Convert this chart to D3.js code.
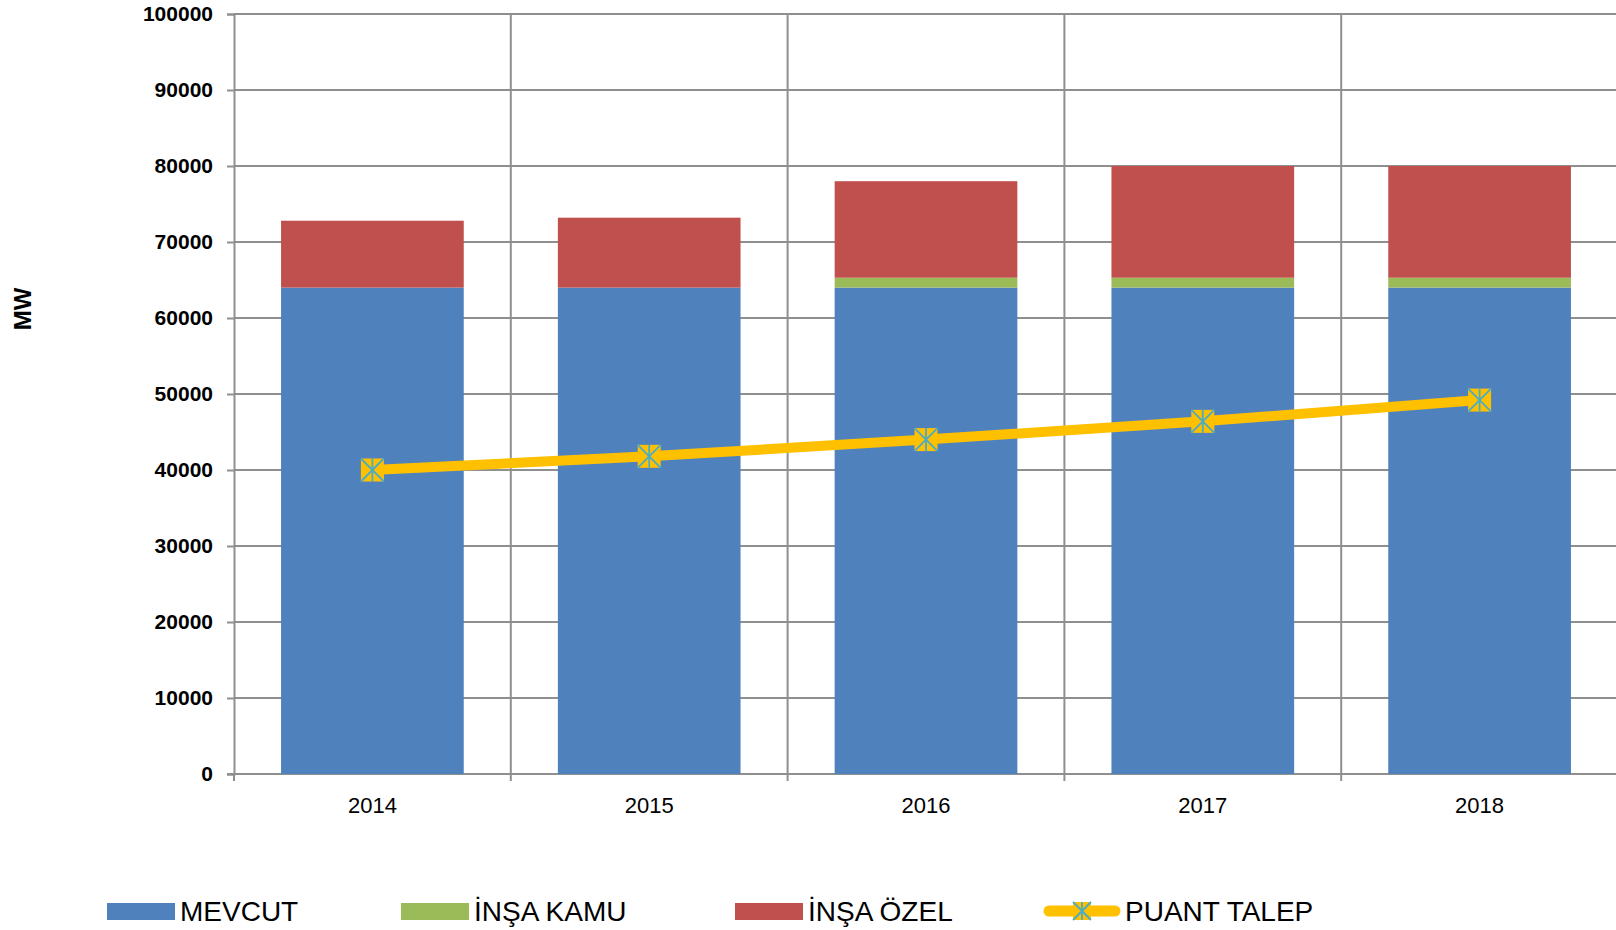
<!DOCTYPE html>
<html>
<head>
<meta charset="utf-8">
<script src="https://cdn.jsdelivr.net/npm/d3@7"></script>
<style>
  body { margin: 0; background: #fff; }
  text { font-family: "Liberation Sans", Arial, sans-serif; fill: #000; }
</style>
</head>
<body>
<script>
// data (MW)
var years = ["2014", "2015", "2016", "2017", "2018"];
var mevcut = [64000, 64000, 64000, 64000, 64000];
var insaKamu = [0, 0, 1300, 1300, 1300];
var insaOzel = [8800, 9200, 12700, 14700, 14700];
var puantTalep = [40000, 41800, 44000, 46400, 49200];
var yTicks = [0, 10000, 20000, 30000, 40000, 50000, 60000, 70000, 80000, 90000, 100000];

var seriesNames = ["MEVCUT", "İNŞA KAMU", "İNŞA ÖZEL"];
var colors = ["#4F81BD", "#9BBB59", "#C0504D"];
var lineColor = "#FFC000", markColor = "#4BACC6";

var W = 1616, H = 930;
var margin = {top: 14, right: 0, bottom: 156, left: 234};
var width = 1384,
    height = H - margin.top - margin.bottom;

var table = years.map(function(y, i) {
  return {year: y, "MEVCUT": mevcut[i], "İNŞA KAMU": insaKamu[i], "İNŞA ÖZEL": insaOzel[i], talep: puantTalep[i]};
});

var x = d3.scaleBand().domain(years).range([0, width]).padding(0);
var y = d3.scaleLinear().domain([0, 100000]).range([height, 0]);
var bw = x.bandwidth();

var svg = d3.select("body").append("svg")
    .attr("width", W)
    .attr("height", H)
  .append("g")
    .attr("transform", "translate(" + margin.left + "," + margin.top + ")");

// grid
svg.append("g")
  .selectAll("line")
  .data(yTicks)
  .enter().append("line")
    .attr("x1", 0).attr("x2", width)
    .attr("y1", function(d) { return y(d); })
    .attr("y2", function(d) { return y(d); })
    .attr("stroke", "#8f8f8f").attr("stroke-width", 2);

svg.append("g")
  .selectAll("line")
  .data(years.slice(1))
  .enter().append("line")
    .attr("x1", function(d) { return x(d); })
    .attr("x2", function(d) { return x(d); })
    .attr("y1", 0).attr("y2", height + 7)
    .attr("stroke", "#8f8f8f").attr("stroke-width", 2);

// y axis
var yAxis = svg.append("g")
    .call(d3.axisLeft(y).tickValues(yTicks).tickSize(7).tickPadding(14).tickFormat(d3.format("d")));
yAxis.select(".domain").attr("stroke", "#8f8f8f").attr("stroke-width", 2);
yAxis.selectAll(".tick line").attr("stroke", "#8f8f8f").attr("stroke-width", 2);
yAxis.selectAll("text")
    .style("font-family", "Liberation Sans, Arial, sans-serif")
    .style("font-size", "21px").style("font-weight", "bold").attr("fill", "#000");

// x axis line + labels
svg.append("line")
    .attr("x1", -7).attr("x2", width)
    .attr("y1", height).attr("y2", height)
    .attr("stroke", "#8f8f8f").attr("stroke-width", 2);
svg.append("line")
    .attr("x1", 0).attr("x2", 0)
    .attr("y1", height).attr("y2", height + 7)
    .attr("stroke", "#8f8f8f").attr("stroke-width", 2);

svg.append("g")
  .selectAll("text")
  .data(years)
  .enter().append("text")
    .attr("x", function(d) { return x(d) + bw / 2; })
    .attr("y", height + 39)
    .attr("text-anchor", "middle")
    .style("font-size", "22px")
    .text(function(d) { return d; });

// stacked bars
var stack = d3.stack().keys(seriesNames)(table);

svg.append("g")
  .selectAll("g")
  .data(stack)
  .enter().append("g")
    .attr("fill", function(d, i) { return colors[i]; })
  .selectAll("rect")
  .data(function(d) { return d; })
  .enter().append("rect")
    .attr("x", function(d) { return x(d.data.year) + bw * 0.17; })
    .attr("width", bw * 0.66)
    .attr("y", function(d) { return y(d[1]); })
    .attr("height", function(d) { return y(d[0]) - y(d[1]); });

// PUANT TALEP line
var line = d3.line()
    .x(function(d) { return x(d.year) + bw / 2; })
    .y(function(d) { return y(d.talep); });

svg.append("path")
    .datum(table)
    .attr("d", line)
    .attr("fill", "none")
    .attr("stroke", lineColor)
    .attr("stroke-width", 10);

function marker(g, s) {
  g.append("rect").attr("x", -s / 2).attr("y", -s / 2).attr("width", s).attr("height", s)
    .attr("fill", lineColor);
  g.append("path")
    .attr("d", "M" + (-s / 2) + "," + (-s / 2) + "L" + (s / 2) + "," + (s / 2) +
               "M" + (s / 2) + "," + (-s / 2) + "L" + (-s / 2) + "," + (s / 2) +
               "M0," + (-s / 2) + "L0," + (s / 2))
    .attr("stroke", markColor).attr("stroke-width", 1.8).attr("fill", "none");
}

svg.append("g")
  .selectAll("g")
  .data(table)
  .enter().append("g")
    .attr("transform", function(d) { return "translate(" + (x(d.year) + bw / 2) + "," + y(d.talep) + ")"; })
    .each(function() { marker(d3.select(this), 23); });

// MW title
d3.select("svg").append("text")
    .attr("transform", "translate(31,309) rotate(-90)")
    .attr("text-anchor", "middle")
    .style("font-size", "24px").style("font-weight", "bold")
    .text("MW");

// legend
var leg = d3.select("svg").append("g");
var legX = [107, 401, 735];
seriesNames.forEach(function(name, i) {
  leg.append("rect")
    .attr("x", legX[i]).attr("y", 903).attr("width", 68).attr("height", 17)
    .attr("fill", colors[i]);
  leg.append("text")
    .attr("x", legX[i] + 73).attr("y", 921)
    .style("font-size", "28px")
    .text(name);
});
leg.append("line")
    .attr("x1", 1049).attr("x2", 1115).attr("y1", 911).attr("y2", 911)
    .attr("stroke", lineColor).attr("stroke-width", 11).attr("stroke-linecap", "round");
var lm = leg.append("g").attr("transform", "translate(1082,911)");
marker(lm, 18);
leg.append("text")
    .attr("x", 1125).attr("y", 921)
    .style("font-size", "28px")
    .text("PUANT TALEP");
</script>
</body>
</html>
